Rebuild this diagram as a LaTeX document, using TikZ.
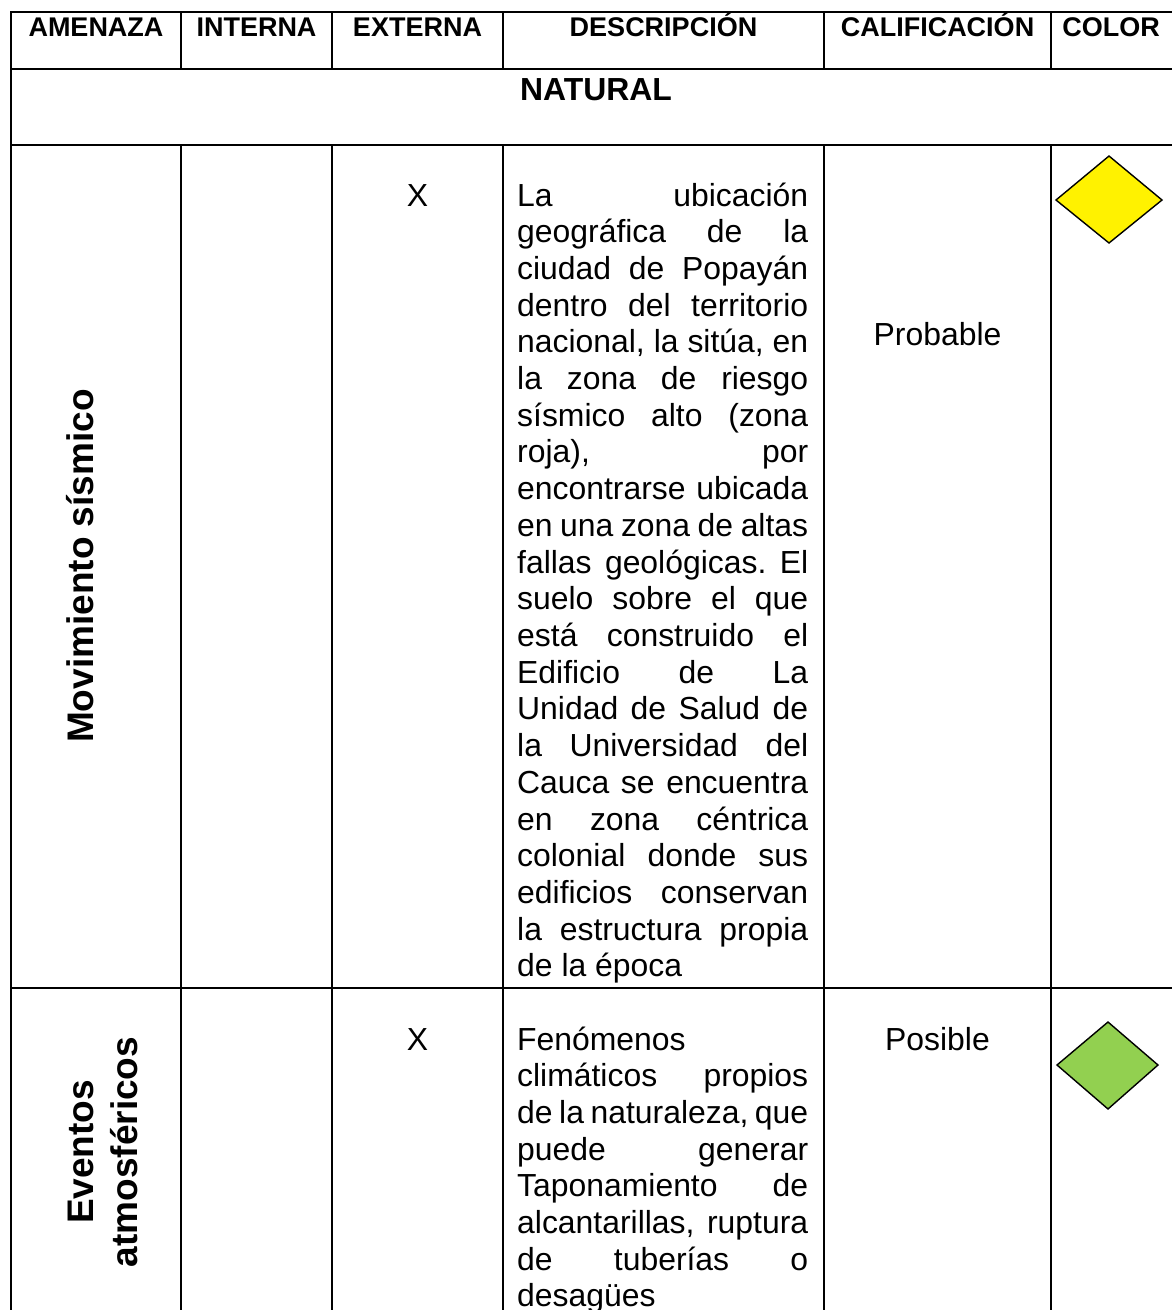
\documentclass[tikz,border=0pt]{standalone}
\usepackage{fontspec}
\setmainfont{Liberation Sans}
\begin{document}
\begin{tikzpicture}[x=1pt,y=-1pt,
  grid/.style={line width=2.4pt,line cap=rect},
  head/.style={font=\fontsize{27}{31}\selectfont\bfseries,inner sep=0pt,anchor=base},
  body/.style={font=\fontsize{31.9}{36.7}\selectfont,inner sep=0pt},
  side/.style={font=\fontsize{37}{42}\selectfont\bfseries,inner sep=0pt,anchor=base,rotate=90},
  gem/.style={draw=black,line width=1.4pt,line join=miter}]
\useasboundingbox (0,0) rectangle (1171,1310);
\fill[white] (0,0) rectangle (1171,1310);
% table rules
\draw[grid] (11,12) -- (1190,12);
\draw[grid] (11,69) -- (1190,69);
\draw[grid] (11,145) -- (1190,145);
\draw[grid] (11,988) -- (1190,988);
\draw[grid] (11,12) -- (11,1320);
\foreach \cx in {181,332,503,824,1051}{
  \draw[grid] (\cx,12) -- (\cx,69);
  \draw[grid] (\cx,145) -- (\cx,1320);
}
% header
\node[head] (hA) at (96,36) {AMENAZA};
\node[head] (hI) at (256.5,36) {INTERNA};
\node[head] (hE) at (417.5,36) {EXTERNA};
\node[head] (hD) at (663.5,36) {DESCRIPCIÓN};
\node[head] (hC) at (937.5,36) {CALIFICACIÓN};
\node[head] (hK) at (1111,36) {COLOR};
\node[font=\fontsize{31.9}{36.7}\selectfont\bfseries,inner sep=0pt,anchor=base] (nat) at (596,100) {NATURAL};
% row 1
\node[side] (m1) at (93,566) {Movimiento sísmico};
\node[body,anchor=base] (x1) at (417.5,206) {X};
\node[body,anchor=base] (c1) at (937.5,345) {Probable};
\foreach \t [count=\i from 0] in {
 {La\hfill ubicación},
 {geográfica\hfill de\hfill la},
 {ciudad\hfill de\hfill Popayán},
 {dentro\hfill del\hfill territorio},
 {nacional,\hfill la\hfill sitúa,\hfill en},
 {la\hfill zona\hfill de\hfill riesgo},
 {sísmico\hfill alto\hfill (zona},
 {roja),\hfill por},
 {encontrarse\hfill ubicada},
 {en\hfill una\hfill zona\hfill de\hfill altas},
 {fallas\hfill geológicas.\hfill El},
 {suelo\hfill sobre\hfill el\hfill que},
 {está\hfill construido\hfill el},
 {Edificio\hfill de\hfill La},
 {Unidad\hfill de\hfill Salud\hfill de},
 {la\hfill Universidad\hfill del},
 {Cauca\hfill se\hfill encuentra},
 {en\hfill zona\hfill céntrica},
 {colonial\hfill donde\hfill sus},
 {edificios\hfill conservan},
 {la\hfill estructura\hfill propia},
 {de la época\hfill}}
 {\node[body,anchor=base west] (d1-\i) at (517,206+\i*36.71) {\hbox to 291pt{\t}};}
\filldraw[gem,fill=yellow] (1056,200) -- (1109,156) -- (1162,200) -- (1109,243) -- cycle;
% row 2
\node[side] (m2a) at (93,1152) {Eventos};
\node[side] (m2b) at (137,1152) {atmosféricos};
\node[body,anchor=base] (x2) at (417.5,1050) {X};
\node[body,anchor=base] (c2) at (937.5,1050) {Posible};
\foreach \t [count=\i from 0] in {
 {Fenómenos\hfill},
 {climáticos\hfill propios},
 {de\hfill la\hfill naturaleza,\hfill que},
 {puede\hfill generar},
 {Taponamiento\hfill de},
 {alcantarillas,\hfill ruptura},
 {de\hfill tuberías\hfill o},
 {desagües\hfill}}
 {\node[body,anchor=base west] (d2-\i) at (517,1050+\i*36.71) {\hbox to 291pt{\t}};}
\filldraw[gem,fill={rgb,255:red,146;green,208;blue,80}] (1057,1065) -- (1108,1022) -- (1158,1065) -- (1108,1109) -- cycle;
\end{tikzpicture}
\end{document}
